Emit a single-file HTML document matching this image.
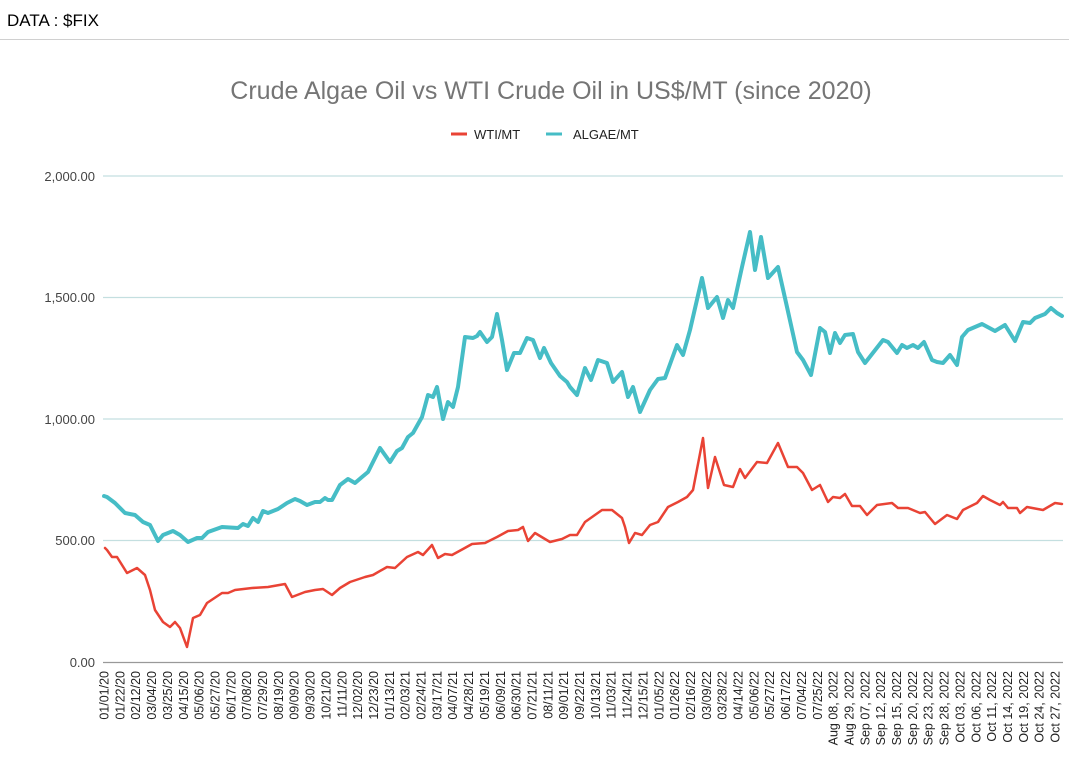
<!DOCTYPE html>
<html><head><meta charset="utf-8"><style>
body{margin:0;background:#fff;width:1069px;height:773px;overflow:hidden;font-family:"Liberation Sans",Arial,sans-serif}
</style></head><body>
<svg width="1069" height="773" xmlns="http://www.w3.org/2000/svg" font-family="Liberation Sans, Arial, sans-serif">
<text x="7" y="26" font-size="17" fill="#000">DATA : $FIX</text>
<line x1="0" y1="39.5" x2="1069" y2="39.5" stroke="#d0d0d0" stroke-width="1"/>
<text x="551" y="99" font-size="25" fill="#757575" text-anchor="middle">Crude Algae Oil vs WTI Crude Oil in US$/MT (since 2020)</text>
<line x1="451" y1="134" x2="467" y2="134" stroke="#e94335" stroke-width="3"/>
<text x="474" y="139" font-size="13" fill="#222">WTI/MT</text>
<line x1="546" y1="134" x2="562" y2="134" stroke="#46bdc6" stroke-width="3"/>
<text x="573" y="139" font-size="13" fill="#222">ALGAE/MT</text>
<g stroke="#c4dfe0" stroke-width="1.3">
<line x1="103" y1="176" x2="1063" y2="176"/>
<line x1="103" y1="297.5" x2="1063" y2="297.5"/>
<line x1="103" y1="419" x2="1063" y2="419"/>
<line x1="103" y1="540.5" x2="1063" y2="540.5"/>
</g>
<line x1="103" y1="662.5" x2="1063" y2="662.5" stroke="#999" stroke-width="1.3"/>
<g font-size="13" fill="#444" text-anchor="end">
<text x="95" y="181">2,000.00</text>
<text x="95" y="302">1,500.00</text>
<text x="95" y="424">1,000.00</text>
<text x="95" y="545">500.00</text>
<text x="95" y="667">0.00</text>
</g>
<polyline fill="none" stroke="#46bdc6" stroke-width="4" stroke-linejoin="round" stroke-linecap="round" points="104,496 107,497 115,503 125,513 135,515 143,522 150,525 158,541 163,535 173,531 180,535 188,542 197,538 202,538 208,532 222,527 238,528 243,524 248,526 253,518 258,522 263,511 268,513 278,509 287,503 295,499 300,501 307,505 315,502 320,502 325,498 328,500 332,500 340,485 348,479 355,483 362,477 368,472 380,448 390,462 397,451 402,448 408,437 413,433 422,417 428,395 433,397 437,387 443,419 448,402 453,407 458,387 465,337 473,338 477,336 480,332 487,342 492,337 497,314 502,340 507,370 514,353 520,353 527,338 533,340 540,358 544,348 551,363 560,376 567,382 570,387 577,395 585,368 591,380 598,360 607,363 613,382 622,372 628,397 633,387 640,412 650,390 658,379 665,378 677,345 683,355 690,330 702,278 708,308 717,297 723,318 728,300 733,308 742,267 750,232 755,270 761,237 768,278 778,267 787,307 797,352 803,360 811,375 820,328 825,332 830,353 835,333 840,343 845,335 853,334 858,352 865,363 883,340 888,342 897,353 902,345 907,348 913,345 918,348 924,342 932,360 937,362 943,363 950,355 957,365 962,337 968,330 982,324 995,331 1005,325 1015,341 1023,322 1030,323 1035,318 1045,314 1051,308 1057,313 1062,316"/>
<polyline fill="none" stroke="#e94335" stroke-width="2.5" stroke-linejoin="round" stroke-linecap="round" points="105,548 107,550 112,557 117,557 127,573 137,568 145,575 150,590 155,610 163,622 170,627 175,622 180,628 187,647 193,618 200,615 207,603 222,593 228,593 235,590 252,588 268,587 285,584 292,597 305,592 315,590 323,589 332,595 340,588 350,582 365,577 373,575 387,567 395,568 407,557 418,552 423,555 432,545 438,558 445,554 452,555 463,549 472,544 485,543 497,537 508,531 518,530 523,527 528,541 535,533 550,542 562,539 570,535 577,535 585,522 602,510 612,510 622,518 625,527 629,543 635,533 642,535 650,525 658,522 668,507 678,502 687,497 693,490 703,438 708,488 715,457 724,485 733,487 740,469 745,478 757,462 767,463 778,443 788,467 797,467 803,473 812,490 820,485 828,502 833,497 840,498 845,494 852,506 860,506 867,515 877,505 892,503 898,508 908,508 920,513 925,512 935,524 947,515 957,519 963,510 977,503 983,496 990,500 1000,505 1003,502 1008,508 1017,508 1020,513 1027,507 1043,510 1055,503 1062,504"/>
<g font-size="12.5" fill="#222" text-anchor="end" id="xl"></g>
</svg>
<script>
var labs=["01/01/20","01/22/20","02/12/20","03/04/20","03/25/20","04/15/20","05/06/20","05/27/20","06/17/20","07/08/20","07/29/20","08/19/20","09/09/20","09/30/20","10/21/20","11/11/20","12/02/20","12/23/20","01/13/21","02/03/21","02/24/21","03/17/21","04/07/21","04/28/21","05/19/21","06/09/21","06/30/21","07/21/21","08/11/21","09/01/21","09/22/21","10/13/21","11/03/21","11/24/21","12/15/21","01/05/22","01/26/22","02/16/22","03/09/22","03/28/22","04/14/22","05/06/22","05/27/22","06/17/22","07/04/22","07/25/22","Aug 08, 2022","Aug 29, 2022","Sep 07, 2022","Sep 12, 2022","Sep 15, 2022","Sep 20, 2022","Sep 23, 2022","Sep 28, 2022","Oct 03, 2022","Oct 06, 2022","Oct 11, 2022","Oct 14, 2022","Oct 19, 2022","Oct 24, 2022","Oct 27, 2022"];
var g=document.getElementById("xl"),ns="http://www.w3.org/2000/svg";
for(var i=0;i<labs.length;i++){var x=104+i*15.85;var t=document.createElementNS(ns,"text");
t.setAttribute("transform","translate("+(x+4.5)+",671) rotate(-90)");t.textContent=labs[i];g.appendChild(t);}
</script>
</body></html>
